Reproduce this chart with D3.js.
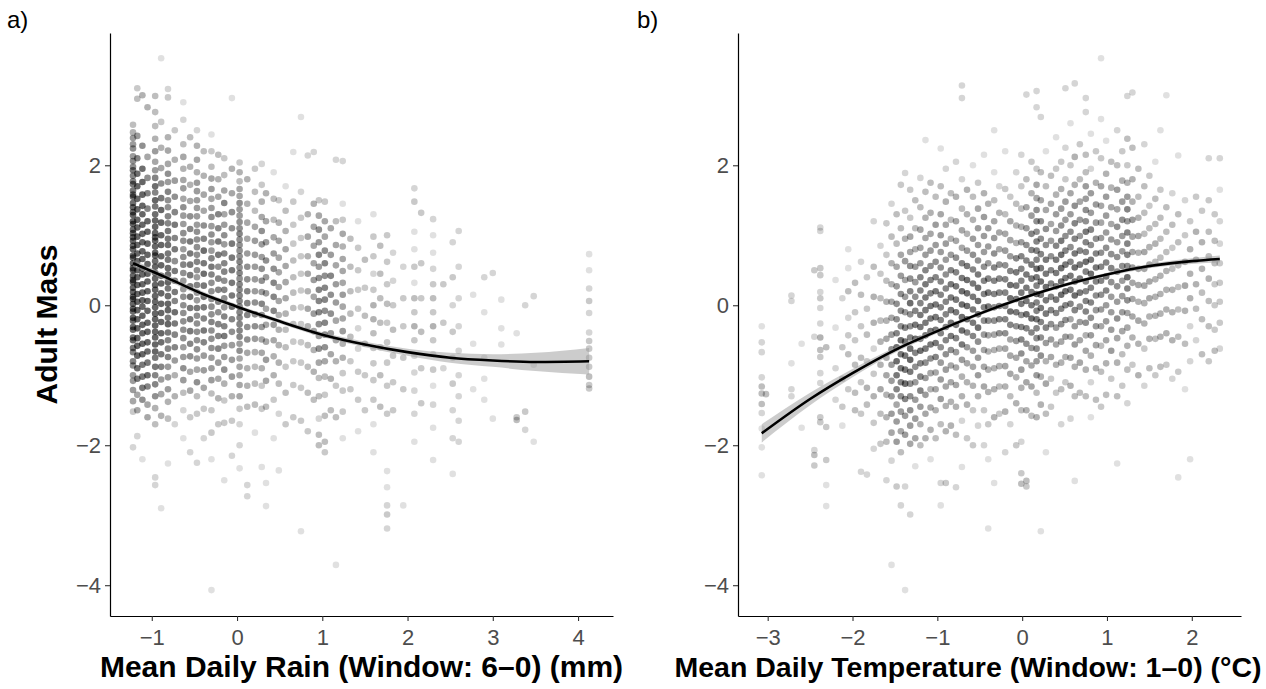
<!DOCTYPE html>
<html><head><meta charset="utf-8">
<script src="https://cdn.jsdelivr.net/npm/d3@7"></script>
<style>body{margin:0;background:#fff} text{font-family:"Liberation Sans",Arial,Helvetica,sans-serif}</style>
</head><body><svg id="c" width="1266" height="689"></svg>
<script>
// ---------- Tick values ----------
const massTicks = [-4, -2, 0, 2];
const rainTicks = [-1, 0, 1, 2, 3, 4];
const tempTicks = [-3, -2, -1, 0, 1, 2];

// ---------- Panel a: rain (x columns and their adult-mass values) ----------
const rainX = [-1.22,-1.17,-1.11,-1.05,-0.96,-0.89,-0.81,-0.73,-0.63,-0.55,-0.47,-0.39,-0.30,-0.22,-0.15,-0.06,0.03,0.12,0.21,0.29,0.34,0.43,0.49,0.57,0.66,0.75,0.83,0.90,0.96,1.03,1.10,1.16,1.24,1.33,1.42,1.50,1.60,1.68,1.76,1.83,1.95,2.08,2.16,2.30,2.42,2.53,2.60,2.77,2.90,3.00,3.10,3.28,3.38,3.48,4.13];
const rainY = [
[2.58,2.47,2.39,2.3,2.24,2.13,2.06,1.98,1.93,1.85,1.77,1.73,1.64,1.58,1.55,1.46,1.4,1.33,1.29,1.2,1.16,1.08,1.03,0.97,0.92,0.85,0.8,0.71,0.68,0.6,0.53,0.5,0.42,0.36,0.33,0.25,0.19,0.12,0.09,0.02,-0.05,-0.09,-0.18,-0.22,-0.31,-0.35,-0.46,-0.5,-0.61,-0.67,-0.8,-0.86,-1.0,-1.08,-1.21,-1.37,-1.52,-2.03],
[3.1,2.95,2.42,2.1,1.88,1.7,1.52,1.37,1.22,1.11,0.98,0.86,0.74,0.63,0.5,0.4,0.29,0.16,0.05,-0.07,-0.2,-0.33,-0.47,-0.58,-0.72,-0.9,-1.05,-1.28,-1.5,-1.87],
[3.0,2.28,1.95,1.76,1.58,1.42,1.3,1.15,1.02,0.9,0.77,0.66,0.52,0.44,0.3,0.18,0.07,-0.02,-0.15,-0.28,-0.4,-0.55,-0.7,-0.85,-1.02,-1.18,-1.35,-2.2],
[2.83,2.12,1.82,1.6,1.38,1.2,1.05,0.88,0.72,0.59,0.45,0.34,0.2,0.06,-0.08,-0.25,-0.38,-0.53,-0.66,-0.82,-1.0,-1.16,-1.42,-1.6],
[2.99,2.76,2.56,2.38,2.2,2.05,1.93,1.82,1.7,1.61,1.5,1.41,1.3,1.21,1.12,1.03,0.97,0.92,0.84,0.75,0.71,0.63,0.55,0.46,0.38,0.29,0.22,0.13,0.05,-0.03,-0.12,-0.2,-0.29,-0.38,-0.46,-0.56,-0.66,-0.75,-0.88,-1.0,-1.13,-1.3,-1.47,-1.7,-2.46,-2.57],
[3.53,2.62,2.25,1.96,1.74,1.53,1.36,1.18,1.0,0.86,0.7,0.57,0.42,0.31,0.17,0.02,-0.11,-0.24,-0.4,-0.53,-0.7,-0.88,-1.06,-1.27,-1.58,-2.9],
[3.09,2.97,2.4,2.21,2.02,1.88,1.76,1.62,1.5,1.4,1.27,1.17,1.06,0.95,0.86,0.74,0.65,0.53,0.44,0.33,0.24,0.13,0.02,-0.07,-0.18,-0.27,-0.39,-0.5,-0.62,-0.74,-0.88,-1.03,-1.2,-1.38,-1.62,-2.26],
[2.5,2.08,1.78,1.55,1.33,1.15,0.96,0.8,0.63,0.49,0.35,0.19,0.06,-0.1,-0.26,-0.42,-0.6,-0.79,-1.0,-1.3,-1.7],
[2.9,2.65,2.3,2.12,1.95,1.79,1.67,1.52,1.4,1.28,1.16,1.03,0.92,0.8,0.69,0.58,0.46,0.35,0.23,0.12,0.0,-0.11,-0.23,-0.35,-0.47,-0.6,-0.74,-0.9,-1.07,-1.25,-1.5,-1.9],
[2.4,1.98,1.72,1.49,1.27,1.09,0.91,0.74,0.58,0.43,0.27,0.12,-0.04,-0.2,-0.37,-0.55,-0.73,-0.95,-1.22,-1.6,-2.1],
[2.5,2.28,2.08,1.9,1.75,1.63,1.5,1.39,1.27,1.15,1.05,0.94,0.83,0.72,0.62,0.5,0.4,0.29,0.18,0.07,-0.04,-0.15,-0.26,-0.38,-0.5,-0.63,-0.76,-0.92,-1.1,-1.3,-1.55,-2.25],
[2.2,1.85,1.58,1.35,1.14,0.95,0.78,0.6,0.45,0.28,0.12,-0.03,-0.19,-0.36,-0.53,-0.72,-0.93,-1.18,-1.48,-1.9],
[2.44,2.2,1.98,1.81,1.66,1.52,1.39,1.26,1.13,1.01,0.9,0.78,0.67,0.55,0.44,0.32,0.2,0.09,-0.02,-0.13,-0.24,-0.36,-0.48,-0.61,-0.75,-0.9,-1.07,-1.26,-1.5,-1.82,-2.2,-4.07],
[2.15,1.8,1.55,1.3,1.1,0.91,0.72,0.55,0.38,0.22,0.05,-0.1,-0.27,-0.44,-0.62,-0.82,-1.05,-1.33,-1.7],
[2.1,1.86,1.64,1.46,1.3,1.15,1.0,0.87,0.74,0.6,0.48,0.35,0.22,0.1,-0.03,-0.16,-0.3,-0.44,-0.58,-0.74,-0.92,-1.12,-1.36,-1.68,-2.5],
[2.96,1.95,1.6,1.33,1.1,0.88,0.68,0.5,0.32,0.14,-0.02,-0.2,-0.38,-0.57,-0.78,-1.02,-1.3,-1.65,-2.15],
[2.04,1.9,1.77,1.66,1.56,1.46,1.37,1.28,1.19,1.1,1.02,0.94,0.86,0.78,0.7,0.62,0.54,0.46,0.38,0.3,0.22,0.14,0.06,-0.02,-0.1,-0.18,-0.27,-0.36,-0.45,-0.55,-0.65,-0.76,-0.88,-1.0,-1.14,-1.3,-1.48,-1.7,-2.0,-2.33],
[1.8,1.45,1.18,0.95,0.74,0.55,0.37,0.2,0.03,-0.14,-0.31,-0.49,-0.68,-0.9,-1.15,-1.45,-2.57,-2.73],
[1.95,1.62,1.35,1.12,0.92,0.72,0.55,0.37,0.2,0.04,-0.13,-0.3,-0.48,-0.67,-0.88,-1.12,-1.42,-1.82],
[2.02,1.72,1.48,1.26,1.06,0.87,0.69,0.52,0.35,0.19,0.02,-0.14,-0.31,-0.49,-0.68,-0.9,-1.15,-1.48,-2.31],
[1.6,1.2,0.9,0.64,0.4,0.17,-0.05,-0.28,-0.52,-0.78,-1.08,-1.45,-2.54,-2.87],
[1.9,1.52,1.22,0.97,0.74,0.52,0.32,0.12,-0.08,-0.28,-0.5,-0.73,-1.0,-1.35,-1.9],
[1.5,1.18,0.92,0.68,0.47,0.26,0.06,-0.14,-0.35,-0.57,-0.82,-1.12,-1.55,-2.36],
[1.7,1.35,1.06,0.8,0.56,0.33,0.1,-0.12,-0.35,-0.6,-0.88,-1.25,-1.7],
[2.19,1.48,1.15,0.88,0.64,0.4,0.18,-0.04,-0.27,-0.52,-0.8,-1.14,-1.6],
[2.69,1.62,1.25,0.96,0.7,0.45,0.21,-0.03,-0.27,-0.53,-0.82,-1.18,-1.65,-3.23],
[2.14,1.3,0.98,0.7,0.45,0.2,-0.05,-0.3,-0.57,-0.88,-1.25,-1.8],
[2.19,1.45,1.12,0.85,0.6,0.36,0.12,-0.12,-0.37,-0.64,-0.95,-1.35],
[1.5,1.28,1.08,0.9,0.72,0.55,0.39,0.22,0.06,-0.1,-0.27,-0.44,-0.62,-0.82,-1.04,-1.3,-1.62,-1.85,-2.0],
[1.48,1.2,0.98,0.78,0.6,0.42,0.25,0.08,-0.08,-0.25,-0.42,-0.6,-0.8,-1.02,-1.28,-1.58,-1.95,-2.1],
[1.1,0.72,0.42,0.15,-0.12,-0.4,-0.7,-1.05,-1.5],
[2.08,1.2,0.86,0.57,0.3,0.04,-0.22,-0.5,-0.8,-1.15,-1.6,-3.71],
[2.06,1.45,1.22,1.02,0.84,0.66,0.49,0.32,0.15,-0.02,-0.19,-0.37,-0.55,-0.75,-0.97,-1.22,-1.52,-1.9],
[0.95,0.55,0.2,-0.12,-0.45,-0.8,-1.2],
[1.2,0.82,0.5,0.22,-0.05,-0.33,-0.62,-0.95,-1.35,-1.8],
[0.65,0.25,-0.15,-0.55,-1.0,-1.5],
[1.3,0.98,0.7,0.45,0.22,0.0,-0.2,-0.4,-0.61,-0.83,-1.07,-1.35,-1.7,-2.1],
[0.85,0.45,0.1,-0.25,-0.6,-1.0,-1.45],
[1.0,0.62,0.3,0.02,-0.25,-0.53,-0.82,-1.15,-1.55,-2.37,-2.6,-2.86,-2.99,-3.19],
[0.75,0.35,0.0,-0.35,-0.72,-1.1,-1.5],
[0.55,0.1,-0.3,-0.75,-1.2,-2.86],
[1.67,1.48,1.05,0.8,0.55,0.32,0.1,-0.1,-0.3,-0.5,-0.72,-0.96,-1.22,-1.55,-1.95],
[1.32,0.6,0.1,-0.38,-0.9,-1.4],
[1.23,1.0,0.75,0.52,0.3,0.1,-0.1,-0.3,-0.5,-0.7,-0.92,-1.15,-1.42,-1.75,-2.21],
[0.3,-0.25,-0.9],
[0.9,0.4,0.0,-0.38,-0.75,-1.12,-1.5,-1.9,-2.41],
[1.06,0.55,0.1,-0.3,-0.65,-1.0,-1.3,-1.65,-1.95],
[0.15,-0.55,-1.2],
[0.4,-0.1,-0.75,-1.05,-1.35],
[0.46,-1.62],
[0.08,-0.33,-0.56],
[-0.4,-1.6,-1.64],
[0.0,-1.52,-1.78],
[0.13,-0.85,-1.95],
[0.73,0.5,0.24,0.06,-0.11,-0.39,-0.51,-0.62,-0.75,-0.88,-1.02,-1.14,-1.19]
];

// ---------- Panel b: temperature (x columns and their adult-mass values) ----------
const tempX = [-3.07,-3.02,-2.72,-2.6,-2.45,-2.38,-2.31,-2.2,-2.12,-2.05,-1.97,-1.9,-1.83,-1.75,-1.67,-1.6,-1.54,-1.48,-1.43,-1.38,-1.32,-1.26,-1.2,-1.14,-1.08,-1.02,-0.96,-0.9,-0.84,-0.78,-0.71,-0.65,-0.58,-0.52,-0.45,-0.4,-0.33,-0.27,-0.2,-0.14,-0.07,-0.01,0.05,0.11,0.17,0.22,0.28,0.34,0.4,0.46,0.51,0.57,0.62,0.68,0.75,0.81,0.87,0.93,0.99,1.05,1.12,1.18,1.24,1.3,1.37,1.44,1.5,1.57,1.63,1.7,1.77,1.84,1.92,1.98,2.05,2.12,2.2,2.27,2.33];
const tempY = [
[-0.3,-0.53,-0.67,-1.03,-1.16,-1.26,-1.41,-1.54,-1.76,-2.03,-2.43],
[-1.27],
[0.14,0.06,-0.83,-1.2,-1.3],
[-0.55,-1.75],
[0.5,-0.45,-2.07,-2.14,-2.29],
[1.11,1.06,0.53,0.43,0.19,0.1,-0.04,-0.26,-0.46,-0.64,-0.74,-0.97,-1.11,-1.6,-1.67],
[-0.6,-1.74,-2.21,-2.57,-2.87],
[0.36,-0.32,-0.9,-1.35],
[0.1,-0.6,-1.05,-1.45,-1.72],
[0.8,0.53,0.2,-0.18,-0.43,-0.7,-1.2],
[0.32,-0.1,-0.5,-0.85,-1.25,-1.5],
[0.62,0.15,-0.3,-0.75,-1.1,-1.55,-2.38],
[0.4,-0.05,-0.42,-0.8,-1.18,-1.42,-2.42],
[1.2,0.55,0.12,-0.25,-0.62,-0.98,-1.3,-1.68,-2.05],
[0.85,0.45,0.1,-0.22,-0.52,-0.85,-1.2,-1.55,-1.98],
[1.17,0.72,0.35,0.05,-0.22,-0.48,-0.75,-1.0,-1.28,-1.6,-1.95,-2.5],
[1.45,0.98,0.6,0.3,0.05,-0.18,-0.42,-0.63,-0.85,-1.08,-1.3,-1.55,-1.82,-2.22,-3.71],
[1.3,0.88,0.55,0.27,0.02,-0.2,-0.4,-0.6,-0.8,-1.0,-1.2,-1.42,-1.66,-1.95,-2.59],
[1.72,1.1,0.72,0.42,0.16,-0.08,-0.3,-0.5,-0.7,-0.9,-1.1,-1.3,-1.52,-1.8,-2.1,-2.86],
[1.89,1.35,0.95,0.63,0.36,0.12,-0.1,-0.32,-0.52,-0.72,-0.92,-1.12,-1.34,-1.58,-1.85,-2.59,-4.07],
[1.65,1.25,0.98,0.76,0.56,0.38,0.2,0.03,-0.13,-0.3,-0.46,-0.62,-0.78,-0.95,-1.12,-1.3,-1.5,-1.72,-1.98,-2.99],
[1.5,1.1,0.8,0.55,0.33,0.12,-0.08,-0.28,-0.48,-0.68,-0.88,-1.1,-1.35,-1.62,-1.9,-2.3],
[1.82,1.4,1.08,0.82,0.6,0.4,0.21,0.03,-0.14,-0.31,-0.48,-0.65,-0.83,-1.02,-1.22,-1.45,-1.7,-2.0],
[2.36,1.62,1.25,0.96,0.72,0.5,0.3,0.11,-0.07,-0.25,-0.43,-0.62,-0.82,-1.04,-1.28,-1.55,-1.9],
[1.75,1.32,1.02,0.78,0.56,0.36,0.17,-0.01,-0.19,-0.37,-0.56,-0.76,-0.97,-1.2,-1.46,-1.78,-2.2],
[1.55,1.15,0.86,0.62,0.4,0.2,0.01,-0.17,-0.35,-0.54,-0.74,-0.96,-1.2,-1.5,-1.9],
[2.24,1.7,1.3,1.0,0.76,0.54,0.34,0.15,-0.03,-0.21,-0.4,-0.6,-0.82,-1.06,-1.34,-1.7,-2.54,-2.86],
[1.95,1.48,1.15,0.88,0.65,0.44,0.24,0.05,-0.13,-0.31,-0.5,-0.7,-0.92,-1.16,-1.44,-1.8,-2.54],
[1.6,1.22,0.95,0.72,0.5,0.3,0.11,-0.07,-0.25,-0.44,-0.64,-0.86,-1.1,-1.38,-1.72],
[2.05,1.55,1.2,0.92,0.68,0.47,0.27,0.08,-0.1,-0.28,-0.47,-0.67,-0.89,-1.14,-1.45,-1.85,-2.6],
[3.14,2.96,1.8,1.38,1.07,0.82,0.6,0.39,0.2,0.01,-0.17,-0.36,-0.56,-0.78,-1.02,-1.3,-1.65,-2.31],
[1.65,1.3,1.02,0.78,0.56,0.36,0.17,-0.01,-0.2,-0.39,-0.6,-0.83,-1.1,-1.42,-1.9],
[2.0,1.55,1.22,0.95,0.72,0.51,0.31,0.12,-0.06,-0.25,-0.44,-0.65,-0.88,-1.15,-1.5,-2.0],
[1.75,1.38,1.1,0.86,0.64,0.44,0.25,0.06,-0.13,-0.32,-0.52,-0.75,-1.0,-1.3,-1.72],
[2.15,1.6,1.26,0.99,0.76,0.55,0.35,0.16,-0.03,-0.22,-0.42,-0.64,-0.88,-1.16,-1.5,-2.0],
[1.45,1.1,0.84,0.6,0.38,0.18,-0.02,-0.22,-0.43,-0.66,-0.92,-1.24,-1.7,-2.2,-3.19],
[2.5,1.9,1.5,1.2,0.96,0.74,0.54,0.35,0.16,-0.03,-0.22,-0.42,-0.64,-0.9,-1.2,-1.6,-2.54],
[1.7,1.32,1.04,0.8,0.58,0.38,0.18,-0.01,-0.2,-0.4,-0.62,-0.87,-1.16,-1.55],
[2.2,1.66,1.3,1.02,0.78,0.57,0.37,0.18,-0.01,-0.2,-0.4,-0.62,-0.87,-1.16,-1.52,-2.1],
[1.55,1.2,0.93,0.7,0.49,0.29,0.1,-0.09,-0.28,-0.49,-0.72,-0.98,-1.3,-1.7],
[1.9,1.45,1.14,0.89,0.67,0.47,0.28,0.09,-0.1,-0.3,-0.51,-0.75,-1.03,-1.4,-2.0],
[2.15,1.7,1.38,1.12,0.9,0.7,0.52,0.35,0.18,0.02,-0.14,-0.31,-0.49,-0.69,-0.92,-1.18,-1.5,-1.95,-2.4,-2.55],
[3.01,1.8,1.4,1.1,0.86,0.64,0.44,0.25,0.06,-0.13,-0.33,-0.55,-0.8,-1.1,-1.5,-2.51,-2.59],
[2.05,1.6,1.28,1.02,0.79,0.58,0.38,0.19,0.0,-0.19,-0.39,-0.61,-0.86,-1.16,-1.58],
[3.06,2.83,1.95,1.72,1.53,1.36,1.2,1.05,0.91,0.78,0.65,0.52,0.4,0.28,0.16,0.04,-0.08,-0.2,-0.33,-0.47,-0.62,-0.8,-1.0,-1.25,-1.6],
[2.69,1.9,1.5,1.2,0.95,0.73,0.53,0.34,0.15,-0.04,-0.24,-0.46,-0.72,-1.02,-1.42,-3.23],
[2.2,1.7,1.36,1.09,0.86,0.65,0.45,0.26,0.07,-0.12,-0.32,-0.54,-0.8,-1.12,-1.55,-2.1],
[1.85,1.45,1.16,0.92,0.7,0.5,0.31,0.12,-0.07,-0.27,-0.49,-0.74,-1.05,-1.45],
[2.4,1.95,1.58,1.3,1.06,0.85,0.65,0.46,0.27,0.08,-0.11,-0.32,-0.56,-0.85,-1.25],
[2.05,1.66,1.38,1.14,0.92,0.72,0.53,0.34,0.15,-0.05,-0.27,-0.52,-0.82,-1.2,-1.7],
[3.1,2.25,1.8,1.48,1.22,0.99,0.78,0.58,0.39,0.2,0.0,-0.21,-0.45,-0.74,-1.1],
[2.6,2.0,1.6,1.3,1.05,0.83,0.62,0.42,0.22,0.02,-0.2,-0.45,-0.75,-1.15,-1.62],
[3.17,2.12,1.72,1.42,1.17,0.95,0.74,0.54,0.34,0.14,-0.07,-0.3,-0.56,-0.88,-1.3,-2.51],
[2.3,1.8,1.48,1.22,0.99,0.78,0.58,0.38,0.18,-0.02,-0.24,-0.5,-0.82,-1.25],
[2.96,2.76,2.15,1.9,1.7,1.52,1.36,1.2,1.05,0.9,0.76,0.62,0.48,0.34,0.2,0.06,-0.09,-0.25,-0.43,-0.65,-0.92,-1.3],
[2.45,1.95,1.6,1.32,1.08,0.86,0.65,0.45,0.25,0.04,-0.18,-0.43,-0.72,-1.1,-1.6],
[2.2,1.75,1.44,1.18,0.95,0.74,0.54,0.34,0.14,-0.07,-0.3,-0.57,-0.9,-1.35],
[3.53,2.66,2.1,1.7,1.42,1.18,0.96,0.75,0.55,0.35,0.15,-0.06,-0.3,-0.58,-0.95,-1.45],
[2.35,1.88,1.55,1.28,1.04,0.82,0.61,0.41,0.21,0.0,-0.23,-0.5,-0.83,-1.28],
[2.05,1.68,1.4,1.16,0.94,0.73,0.53,0.33,0.12,-0.1,-0.35,-0.65,-1.05],
[2.5,2.0,1.65,1.37,1.12,0.9,0.69,0.48,0.27,0.05,-0.19,-0.47,-0.82,-1.3,-2.26],
[2.2,1.78,1.48,1.22,0.99,0.77,0.56,0.35,0.13,-0.1,-0.37,-0.7,-1.15],
[2.99,2.38,2.0,1.75,1.55,1.37,1.2,1.04,0.88,0.72,0.56,0.4,0.24,0.07,-0.11,-0.32,-0.58,-0.92,-1.4],
[3.04,2.25,1.8,1.48,1.22,0.98,0.76,0.54,0.32,0.09,-0.16,-0.46,-0.85],
[1.95,1.55,1.25,0.99,0.75,0.52,0.29,0.05,-0.22,-0.55,-1.0],
[2.3,1.7,1.32,1.02,0.76,0.52,0.28,0.03,-0.26,-0.62,-1.15],
[1.85,1.42,1.1,0.83,0.58,0.34,0.1,-0.16,-0.48,-0.9],
[2.05,1.52,1.16,0.88,0.62,0.37,0.12,-0.15,-0.48,-1.0],
[2.5,1.65,1.25,0.95,0.68,0.42,0.16,-0.12,-0.45,-0.88],
[3.0,1.4,1.05,0.76,0.49,0.22,-0.06,-0.4,-0.85],
[1.6,1.15,0.82,0.52,0.22,-0.1,-0.5,-1.05],
[2.14,1.3,0.9,0.57,0.26,-0.06,-0.45,-0.95,-2.46],
[1.5,1.0,0.62,0.28,-0.08,-0.55,-1.2],
[1.2,0.8,0.45,0.1,-0.3,-0.8,-2.2],
[1.55,1.05,0.65,0.3,-0.05,-0.5],
[1.35,0.9,0.52,0.18,-0.2,-0.7],
[2.1,1.5,1.05,0.7,0.38,0.06,-0.3,-0.8],
[1.3,0.92,0.6,0.3,0.0,-0.35,-0.65],
[2.1,1.65,1.2,0.88,0.6,0.32,0.05,-0.25,-0.62]
];

// ---------- Fitted curves ----------
const rainFitX  = [-1.22,-0.8,-0.4,0,0.5,1,1.5,2,2.5,3,3.5,4.13];
const rainFitY  = [0.6,0.38,0.16,-0.02,-0.23,-0.42,-0.56,-0.67,-0.75,-0.79,-0.81,-0.8];
const rainFitLo = [0.55,0.34,0.125,-0.05,-0.26,-0.455,-0.6,-0.72,-0.82,-0.88,-0.94,-0.99];
const rainFitHi = [0.65,0.42,0.195,0.01,-0.2,-0.385,-0.52,-0.62,-0.68,-0.7,-0.68,-0.61];
const tempFitX  = [-3.07,-2.5,-2,-1.5,-1,-0.5,0,0.5,1,1.5,2,2.33];
const tempFitY  = [-1.83,-1.34,-0.97,-0.64,-0.37,-0.12,0.1,0.29,0.44,0.56,0.63,0.66];
const tempFitLo = [-1.96,-1.43,-1.03,-0.68,-0.4,-0.145,0.075,0.265,0.415,0.53,0.59,0.61];
const tempFitHi = [-1.70,-1.25,-0.91,-0.6,-0.34,-0.095,0.125,0.315,0.465,0.59,0.67,0.71];

// ---------- Drawing ----------
const svg = d3.select('#c');
svg.append('rect').attr('width', 1266).attr('height', 689).attr('fill', '#fff');

const yScale = d3.scaleLinear().domain([-4.44, 3.89]).range([616, 33]);
const fmt = d => d < 0 ? '\u2212' + Math.abs(d) : String(d);

function panel(cfg) {
  const x = d3.scaleLinear().domain(cfg.xdom).range(cfg.xrange);
  const g = svg.append('g');
  const pts = cfg.xs.flatMap((xv, i) => cfg.ys[i].map(yv => ({px: x(xv), py: yScale(yv)})));
  // each plotted point stands for several overlapping birds where the cloud is dense:
  // darken points by how crowded their neighbourhood is
  const R2 = 14 * 14;
  pts.forEach(p => {
    let n = 0;
    pts.forEach(q => { const dx = p.px - q.px, dy = p.py - q.py; if (dx*dx + dy*dy < R2) n++; });
    p.a = Math.min(0.6, 0.12 + 0.045 * (n - 1));
  });
  g.append('g').selectAll('circle').data(pts).join('circle')
    .attr('cx', d => d.px).attr('cy', d => d.py)
    .attr('r', 3.3).attr('fill', '#000').attr('fill-opacity', d => d.a);

  const fit = cfg.fx.map((xv, i) => ({x: xv, y: cfg.fy[i], lo: cfg.flo[i], hi: cfg.fhi[i]}));
  g.append('path').datum(fit)
    .attr('d', d3.area().x(d => x(d.x)).y0(d => yScale(d.lo)).y1(d => yScale(d.hi)).curve(d3.curveMonotoneX))
    .attr('fill', '#999').attr('fill-opacity', 0.5);
  g.append('path').datum(fit)
    .attr('d', d3.line().x(d => x(d.x)).y(d => yScale(d.y)).curve(d3.curveMonotoneX))
    .attr('fill', 'none').attr('stroke', '#000').attr('stroke-width', 2.6);

  const ya = g.append('g').attr('transform', `translate(${cfg.xrange[0]},0)`)
    .call(d3.axisLeft(yScale).tickValues(massTicks).tickFormat(fmt).tickSize(5).tickSizeOuter(0).tickPadding(4));
  const xa = g.append('g').attr('transform', 'translate(0,616)')
    .call(d3.axisBottom(x).tickValues(cfg.ticks).tickFormat(fmt).tickSize(5).tickSizeOuter(0).tickPadding(8));
  [ya, xa].forEach(a => {
    a.select('.domain').attr('stroke', '#000').attr('stroke-width', 1.2);
    a.selectAll('.tick line').attr('stroke', '#333').attr('stroke-width', 1.1);
    a.selectAll('.tick text').attr('fill', '#4d4d4d').attr('font-size', 22)
      .attr('font-family', '"Liberation Sans",Arial,Helvetica,sans-serif');
  });

  g.append('text').attr('x', cfg.titleX).attr('y', 677)
    .attr('text-anchor', 'middle').attr('font-size', cfg.titleSize).attr('font-weight', 'bold')
    .attr('fill', '#000').text(cfg.title);
  g.append('text').attr('x', cfg.tagX).attr('y', 28).attr('font-size', 24)
    .attr('fill', '#000').text(cfg.tag);
}

panel({xdom: [-1.49, 4.41], xrange: [110, 613], ticks: rainTicks, xs: rainX, ys: rainY,
  fx: rainFitX, fy: rainFitY, flo: rainFitLo, fhi: rainFitHi,
  title: 'Mean Daily Rain (Window: 6\u20130) (mm)', titleX: 361.5, titleSize: 30, tag: 'a)', tagX: 7});
panel({xdom: [-3.35, 2.58], xrange: [738, 1241], ticks: tempTicks, xs: tempX, ys: tempY,
  fx: tempFitX, fy: tempFitY, flo: tempFitLo, fhi: tempFitHi,
  title: 'Mean Daily Temperature (Window: 1\u20130) (\u00B0C)', titleX: 968, titleSize: 28.5, tag: 'b)', tagX: 637});

svg.append('text').attr('transform', 'translate(57,324.5) rotate(-90)')
  .attr('text-anchor', 'middle').attr('font-size', 30).attr('font-weight', 'bold')
  .attr('fill', '#000').text('Adult Mass');
</script></body></html>
